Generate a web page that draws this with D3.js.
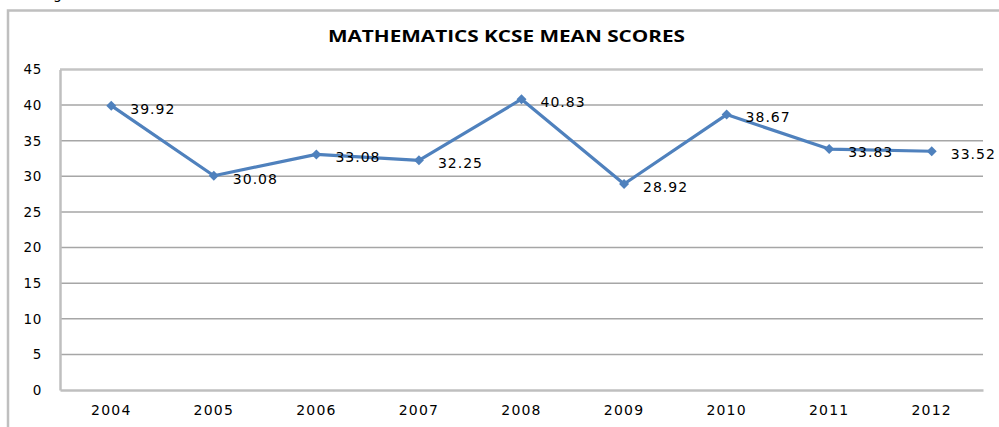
<!DOCTYPE html>
<html><head><meta charset="utf-8">
<script src="https://cdn.jsdelivr.net/npm/d3@7/dist/d3.min.js"></script>
<style>body{margin:0;background:#fff}svg{display:block}</style>
</head><body>
<script>
const years = ["2004","2005","2006","2007","2008","2009","2010","2011","2012"];
const scores = [39.92,30.08,33.08,32.25,40.83,28.92,38.67,33.83,33.52];
const labels = ["39.92","30.08","33.08","32.25","40.83","28.92","38.67","33.83","33.52"];
const yTicks = [0,5,10,15,20,25,30,35,40,45];
const title = "MATHEMATICS KCSE MEAN SCORES";

const W=999,H=427;
const svg=d3.select("body").append("svg").attr("width",W).attr("height",H);
// outer chart border
svg.append("path").attr("d","M8,427V10.5H999").attr("fill","none").attr("stroke","#bfbfbf").attr("stroke-width",2.5);
// cropped caption descender
svg.append("text").attr("x",53).attr("y",-1).attr("font-family","DejaVu Sans").attr("font-size",14).text("g");

const L=60,R=983,T=69.5,B=390;
const x=d3.scaleBand().domain(years).range([L,R]);
const y=d3.scaleLinear().domain([0,45]).range([B,T]);

// gridlines
svg.append("g").selectAll("line").data(yTicks.filter(d=>d>0)).join("line")
  .attr("x1",L).attr("x2",R).attr("y1",d=>y(d)).attr("y2",d=>y(d))
  .attr("stroke",d=>d===45?"#c4c4c4":"#a6a6a6").attr("stroke-width",d=>d===45?2.5:1.5);

// axes
const yAxis=d3.axisLeft(y).tickValues(yTicks).tickSize(0).tickPadding(18);
const gy=svg.append("g").attr("transform",`translate(${L},0)`).call(yAxis);
gy.select(".domain").attr("stroke","#bfbfbf").attr("stroke-width",2.5);
gy.selectAll("text").attr("font-family","DejaVu Sans").attr("font-size",13.5).attr("letter-spacing","0.6px").attr("fill","#000");

const xAxis=d3.axisBottom(x).tickSize(0).tickPadding(15);
const gx=svg.append("g").attr("transform",`translate(0,${B})`).call(xAxis);
gx.select(".domain").attr("stroke","#bfbfbf").attr("stroke-width",2.5);
gx.selectAll("text").attr("font-family","DejaVu Sans").attr("font-size",14).attr("letter-spacing","1.2px").attr("fill","#000");

// title
svg.append("text").attr("x",(L+R)/2-15).attr("y",42).attr("text-anchor","middle")
  .attr("font-family","Open Sans").attr("font-weight","bold").attr("font-size",16)
  .attr("textLength",357).attr("lengthAdjust","spacingAndGlyphs").text(title);

// line
const data=years.map((d,i)=>({year:d,v:scores[i],lab:labels[i]}));
const cx=d=>x(d.year)+x.bandwidth()/2;
svg.append("path").datum(data)
  .attr("d",d3.line().x(cx).y(d=>y(d.v)))
  .attr("fill","none").attr("stroke","#4f81bd").attr("stroke-width",3.2).attr("stroke-linejoin","round");
svg.append("g").selectAll("path").data(data).join("path")
  .attr("d",d3.symbol(d3.symbolSquare,50))
  .attr("transform",d=>`translate(${cx(d)},${y(d.v)}) rotate(45)`).attr("fill","#4f81bd");

// data labels
svg.append("g").selectAll("text").data(data).join("text")
  .attr("x",d=>cx(d)+19).attr("y",d=>y(d.v)+3).attr("dy","0.35em")
  .attr("font-family","DejaVu Sans").attr("font-size",14).attr("letter-spacing","1px").attr("fill","#000")
  .text(d=>d.lab);
</script>
</body></html>
